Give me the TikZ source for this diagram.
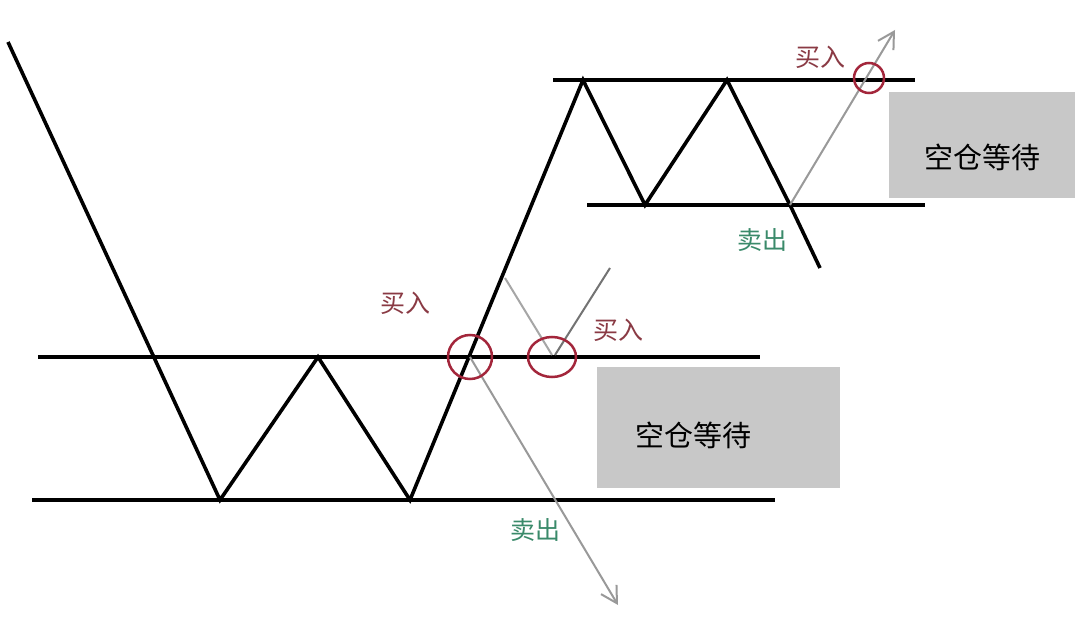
\documentclass[tikz,border=0pt]{standalone}
\usepackage{fontspec}
\setmainfont{Noto Sans CJK SC}
\usetikzlibrary{positioning,calc,arrows.meta}
\definecolor{circred}{HTML}{A3263B}
\definecolor{buytext}{HTML}{8A3A44}
\definecolor{selltext}{HTML}{3A8A6A}
\definecolor{boxgray}{HTML}{C8C8C8}
\tikzset{
  price/.style={line width=3.6pt, black, line join=miter},
  level/.style={line width=3.6pt, black},
  trend/.style={line width=2pt, gray!80, -{Straight Barb[length=16pt,width=18pt]}},
  ring/.style={line width=2.5pt, circred},
  waitbox/.style={fill=boxgray, draw=none},
  buylabel/.style={text=buytext, font=\fontsize{25}{25}\selectfont},
  selllabel/.style={text=selltext, font=\fontsize{25}{25}\selectfont},
  waitlabel/.style={font=\fontsize{29}{29}\selectfont}
}
\begin{document}
\begin{tikzpicture}[x=1pt,y=-1pt]
    \useasboundingbox[fill=white] (0,0) rectangle (1080,617);

    % Support / resistance levels
    \draw[level] (38,357) -- (760,357);
    \draw[level] (32,500) -- (775,500);
    \draw[level] (553,80) -- (915,80);
    \draw[level] (587,205) -- (925,205);

    % Wait boxes
    \draw[waitbox] (597,367) rectangle (840,488) node[midway, waitlabel, xshift=-25pt, yshift=-8pt] {空仓等待};
    \draw[waitbox] (889,92) rectangle (1075,198) node[midway, waitlabel, yshift=-12pt] {空仓等待};

    % Price path
    \draw[price] (8,42) -- (220,500) -- (318,357) -- (410,500) -- (583,80)
        -- (645,205) -- (727,80) -- (790,205) -- (820,268);

    % Alternative paths
    \draw[line width=2pt, gray!70] (505,278) -- (552,355);
    \draw[line width=2pt, gray!90!black] (555,355) -- (610,268);
    \draw[trend] (470,357) -- (618,605);
    \draw[trend] (790,205) -- (895,30);

    % Signal rings
    \draw[ring] (470,357) circle (22);
    \draw[ring] (552,357) ellipse (24 and 20);
    \draw[ring] (869,78) circle (15);

    % Labels
    \node[buylabel] at (405,303) {买入};
    \node[buylabel] at (618,330) {买入};
    \node[buylabel] at (820,57) {买入};
    \node[selllabel] at (535,530) {卖出};
    \node[selllabel] at (762,240) {卖出};
\end{tikzpicture}
\end{document}
